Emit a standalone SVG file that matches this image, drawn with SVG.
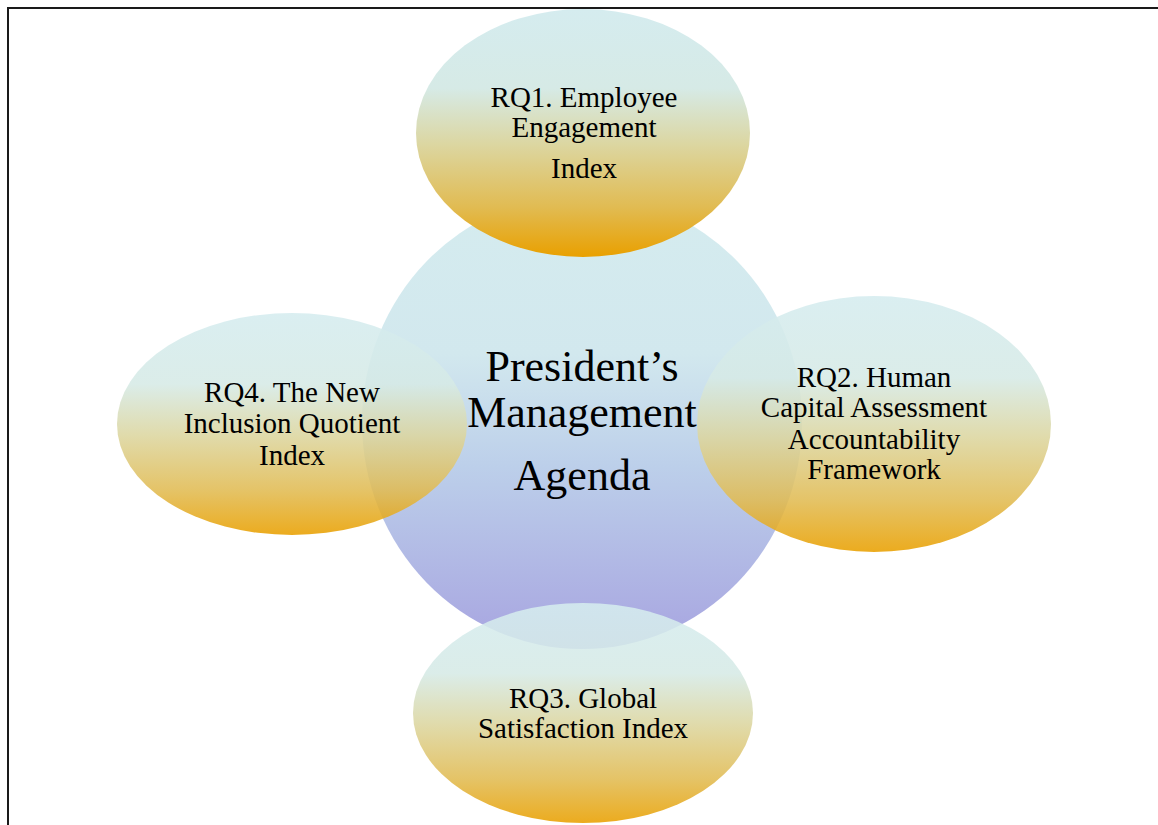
<svg xmlns="http://www.w3.org/2000/svg" width="1158" height="825" viewBox="0 0 1158 825">
  <defs>
    <linearGradient id="gEll" x1="0" y1="0" x2="0" y2="1">
      <stop offset="0" stop-color="#d5ecef"/>
      <stop offset="0.32" stop-color="#d6eae6"/>
      <stop offset="0.55" stop-color="#dcd6a0"/>
      <stop offset="0.8" stop-color="#e1bb52"/>
      <stop offset="1" stop-color="#e9a000"/>
    </linearGradient>
    <linearGradient id="gCirc" x1="0" y1="0" x2="0" y2="1">
      <stop offset="0" stop-color="#d5ecef"/>
      <stop offset="0.35" stop-color="#d2e8ee"/>
      <stop offset="0.6" stop-color="#bccfea"/>
      <stop offset="1" stop-color="#a7a4e0"/>
    </linearGradient>
    <style>
      .ell { fill: url(#gEll); opacity: 0.88; }
      .circ { fill: url(#gCirc); }
      .lbl { font-family: "Liberation Serif", "Times New Roman", serif; font-size: 29px; fill: #000; text-anchor: middle; }
      .big { font-family: "Liberation Serif", "Times New Roman", serif; font-size: 44px; fill: #000; text-anchor: middle; }
    </style>
  </defs>
  <rect x="0" y="0" width="1158" height="825" fill="#ffffff"/>
  <rect x="8" y="8" width="1200" height="900" fill="none" stroke="#1a1a1a" stroke-width="2"/>

  <g id="center">
    <ellipse class="circ" cx="582" cy="422" rx="220" ry="227"/>
    <text class="big" x="582" y="381">President’s</text>
    <text class="big" x="582" y="427">Management</text>
    <text class="big" x="582" y="490">Agenda</text>
  </g>

  <g id="connectors"/>

  <g id="rq4">
    <ellipse class="ell" cx="292" cy="424" rx="175" ry="111"/>
    <text class="lbl" x="292" y="402">RQ4. The New</text>
    <text class="lbl" x="292" y="433">Inclusion Quotient</text>
    <text class="lbl" x="292" y="465">Index</text>
  </g>

  <g id="rq2">
    <ellipse class="ell" cx="874" cy="424" rx="177" ry="128"/>
    <text class="lbl" x="874" y="387">RQ2. Human</text>
    <text class="lbl" x="874" y="417">Capital Assessment</text>
    <text class="lbl" x="874" y="449">Accountability</text>
    <text class="lbl" x="874" y="479">Framework</text>
  </g>

  <g id="rq3">
    <ellipse class="ell" cx="583" cy="713" rx="170" ry="110"/>
    <text class="lbl" x="583" y="708">RQ3. Global</text>
    <text class="lbl" x="583" y="738">Satisfaction Index</text>
  </g>

  <g id="rq1">
    <ellipse class="ell" cx="583" cy="133" rx="167" ry="124" style="opacity:1"/>
    <text class="lbl" x="584" y="107">RQ1. Employee</text>
    <text class="lbl" x="584" y="137">Engagement</text>
    <text class="lbl" x="584" y="178">Index</text>
  </g>
</svg>
